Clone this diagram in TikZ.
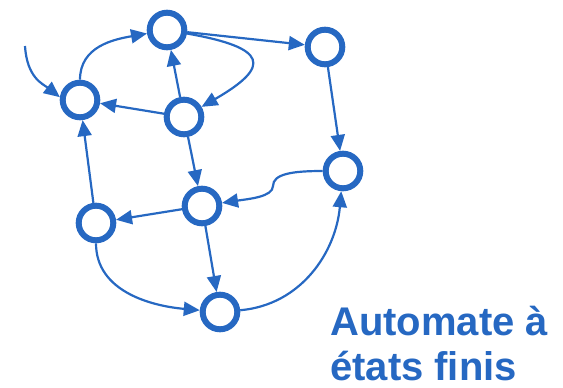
\documentclass[tikz,border=0pt]{standalone}
\usepackage{fontspec}
\setmainfont{Liberation Sans}
\usetikzlibrary{arrows.meta}
\definecolor{autoblue}{RGB}{38,104,194}
\tikzset{
  state/.style={circle, draw=autoblue, line width=6pt, fill=white,
                minimum size=34.6pt, inner sep=0pt},
  trans/.style={draw=autoblue, line width=2.2pt,
                -{Triangle[length=16pt,width=14pt]}},
  caption/.style={text=autoblue, font=\bfseries\fontsize{40}{47}\selectfont,
                  anchor=base west, inner sep=0pt}
}
\begin{document}
\begin{tikzpicture}[x=1pt,y=1pt]
\useasboundingbox (0,0) rectangle (563,-388);

% states
\node[state] (A) at (167,-30)  {};
\node[state] (B) at (80,-100)  {};
\node[state] (C) at (184,-117) {};
\node[state] (D) at (325,-47)  {};
\node[state] (E) at (343,-171) {};
\node[state] (F) at (202,-206) {};
\node[state] (G) at (96,-223)  {};
\node[state] (H) at (220,-312) {};

\coordinate (init) at (25,-46);

% transitions
\draw[trans] (init) .. controls (27,-78) and (43,-84) .. (B.172);
\draw[trans] (B) to[out=90,in=190,looseness=1.05] (A);
\draw[trans] (A) -- (D);
\draw[trans] (A) to[out=-10,in=30,looseness=2.8] (C);
\draw[trans] (C) -- (A);
\draw[trans] (C) -- (B);
\draw[trans] (G) -- (B);
\draw[trans] (C) -- (F);
\draw[trans] (D) -- (E);
\draw[trans] (E.west) .. controls (292,-171) and (273,-174) .. (273,-186)
                      .. controls (273,-197) and (248,-199) .. (F);
\draw[trans] (F) -- (G);
\draw[trans] (F) -- (H);
\draw[trans] (G) to[out=-90,in=175] (H);
\draw[trans] (H) to[out=5,in=-95] (E);

% caption
\node[caption] (title1) at (330,-335) {Automate à};
\node[caption] (title2) at (330,-380) {états finis};
\end{tikzpicture}
\end{document}
